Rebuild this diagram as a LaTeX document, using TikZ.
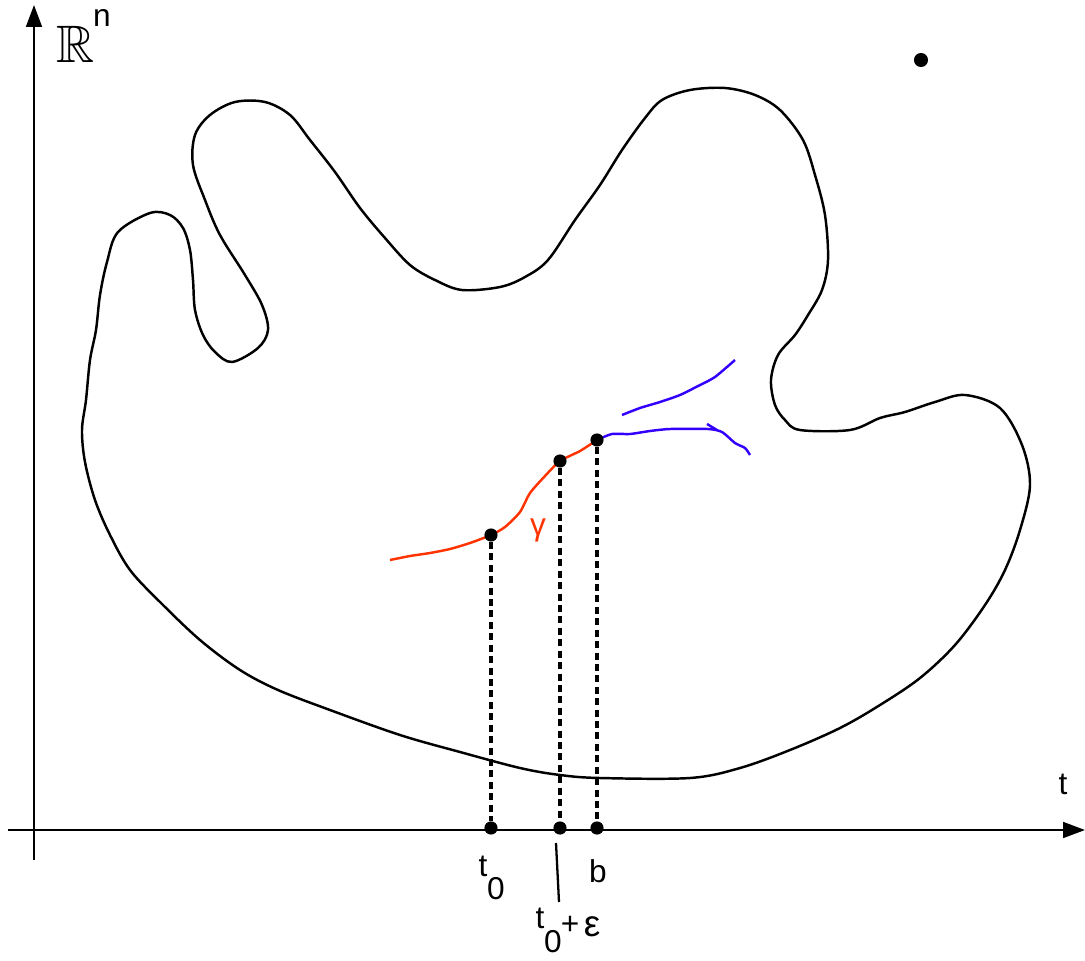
\documentclass[tikz,border=0pt]{standalone}
\usepackage{amssymb}
\usepackage{fontspec}
\setmainfont{Liberation Sans}
\usetikzlibrary{arrows.meta}

\definecolor{gammared}{RGB}{255,51,0}
\definecolor{gammablue}{RGB}{51,0,255}

\begin{document}
\begin{tikzpicture}[
	x=0.02cm, y=-0.02cm,
	axis/.style={line width=1.3pt, -{Triangle[length=12.5pt, width=9pt]}},
	boundary/.style={line width=1.4pt},
	path/.style={line width=1.4pt},
	point/.style={circle, fill=black, minimum size=7.5pt, inner sep=0pt},
	proj/.style={line width=2pt, dash pattern=on 4pt off 2.5pt},
	lbl/.style={font=\fontsize{18}{21}\selectfont, inner sep=0pt},
]
	\useasboundingbox (0, 0) rectangle (1085, 960);

	% Axes
	\coordinate (ybot) at (34, 860);
	\coordinate (ytop) at (34, 5);
	\coordinate (xleft) at (8, 830);
	\coordinate (xright) at (1085, 830);
	\draw[axis] (ybot) -- (ytop);
	\draw[axis] (xleft) -- (xright);

	% The domain
	\draw[boundary] plot[smooth cycle, tension=0.55] coordinates {
		(150, 213) (118, 232) (107, 262) (100, 295) (96, 330) (90, 360)
		(86, 400) (82, 430) (85, 462) (95, 500) (110, 535) (130, 570)
		(160, 602) (200, 640) (240, 670) (278, 690) (330, 710) (400, 735)
		(460, 752) (520, 768) (560, 775) (600, 778) (690, 778) (740, 768)
		(790, 750) (840, 728) (880, 705) (920, 678) (955, 645) (985, 605)
		(1005, 570) (1020, 530) (1030, 485) (1022, 445) (1000, 408) (965, 395)
		(935, 402) (905, 412) (880, 418) (850, 430) (800, 430) (785, 420)
		(775, 405) (771, 380) (778, 355) (795, 335) (808, 315) (822, 290)
		(828, 260) (825, 215) (815, 175) (803, 140) (780, 110) (755, 95)
		(725, 88) (690, 90) (662, 100) (645, 118) (622, 150) (600, 185)
		(575, 220) (548, 260) (525, 277) (500, 287) (462, 290) (435, 280)
		(410, 265) (385, 238) (360, 208) (335, 172) (310, 140) (290, 115)
		(265, 102) (235, 102) (210, 115) (195, 135) (193, 165) (205, 200)
		(220, 235) (245, 275) (262, 305) (268, 330) (258, 348) (232, 362)
		(215, 352) (203, 335) (195, 310) (193, 280) (190, 250) (183, 228)
		(170, 215)
	};

	\node[point, minimum size=8pt] (far) at (921, 60) {};

	% The solution gamma and its two continuations
	\draw[path, gammared] plot[smooth, tension=0.4] coordinates {
		(390, 560) (410, 556) (430, 553) (450, 549) (470, 543) (491, 535)
		(505, 527) (520, 512) (530, 493) (545, 476) (560, 461) (580, 451) (597, 440)
	};
	\draw[path, gammablue] plot[smooth, tension=0.4] coordinates {
		(597, 440) (612, 434) (630, 434) (650, 431) (670, 429) (708, 429)
		(722, 432) (735, 443) (745, 448) (750, 455)
	};
	\draw[path, gammablue] (707, 424) -- (717, 430);
	\draw[path, gammablue] plot[smooth, tension=0.4] coordinates {
		(622, 415) (640, 408) (660, 402) (680, 395) (700, 385) (715, 377) (735, 360)
	};

	% Projections onto the time axis
	\foreach \n/\x/\y in {a/491/535, e/560/461, b/597/440} {
		\node[point] (p\n) at (\x, \y) {};
		\node[point] (q\n) at (\x, 828) {};
		\draw[proj] (p\n) -- (q\n);
	}

	% Labels
	\node[font=\fontsize{30}{34}\selectfont, inner sep=0pt] (rr) at (76, 44) {$\mathbb{R}$};
	\node[lbl] (rn) at (102, 18) {n};
	\node[lbl] (tt) at (1063, 784) {t};
	\node[lbl, gammared] (gam) at (538, 530) {γ};
	\node[lbl] (t0) at (483, 866) {t};
	\node[lbl] (t0s) at (496, 889) {0};
	\node[lbl] (bb) at (598, 871) {b};
	\coordinate (tick) at (556, 843);
	\coordinate (tickend) at (559, 902);
	\draw[line width=1.3pt] (tick) -- (tickend);
	\node[lbl] (te) at (540, 918) {t};
	\node[lbl] (tes) at (553, 942) {0};
	\node[lbl] (plus) at (570, 925) {+};
	\node[lbl, font=\fontsize{21}{24}\selectfont] (eps) at (592, 927) {ε};
\end{tikzpicture}
\end{document}
